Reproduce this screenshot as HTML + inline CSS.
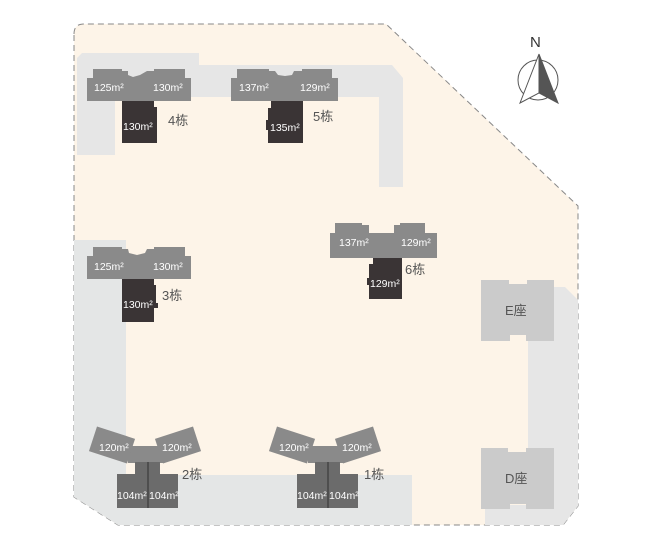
<!DOCTYPE html>
<html><head><meta charset="utf-8"><style>
html,body{margin:0;padding:0;background:#fff;}
svg{display:block;}
text{font-family:"Liberation Sans","Noto Sans CJK SC",sans-serif;}
.w{fill:#fff;font-size:10.5px;}
.l{fill:#555;font-size:13px;}
</style></head><body>
<svg width="649" height="542" viewBox="0 0 649 542" xmlns="http://www.w3.org/2000/svg">
<path d="M74,34 Q74,24 84,24 L386,24 L578,206 L578,506 L563,525 L118,525 L74,497 Z" fill="#fdf4e8" stroke="#888" stroke-width="1" stroke-dasharray="6,4"/>
<g fill="#e6e6e6">
<path d="M77,58 L82,53 L199,53 L199,65 L392,65 L403,78 L403,187 L379,187 L379,97 L115,97 L115,155 L77,155 Z"/>
<path d="M74,240 L126,240 L126,475 L412,475 L412,525 L118,525 L74,497 Z" fill="#e4e6e6"/>
<path d="M528,287 L565,287 L578,300 L578,506 L563,525 L485,525 L485,505 L528,505 Z"/>
</g>
<g fill="#cbcbcb">
<path d="M481,280 L509,280 L509,284 L527,284 L527,280 L554,280 L554,341 L526,341 L526,335 L510,335 L510,341 L481,341 Z"/>
<path d="M481,448 L508,448 L508,452 L526,452 L526,448 L554,448 L554,509 L526,509 L526,504 L510,504 L510,509 L481,509 Z"/>
</g>
<text x="505" y="315" class="l">E座</text>
<text x="505" y="483" class="l">D座</text>
<g fill="#8a8a8a">
<path d="M87,78 L93,78 L93,69 L122,69 L122,71 L128,71 L128,75 L133,77 L140,75 L147,71 L154,71 L154,69 L185,69 L185,78 L191,78 L191,101 L87,101 Z"/>
<path d="M231,78 L237,78 L237,69 L269,69 L269,71 L275,71 L278,75 L285,76 L292,75 L294,71 L302,71 L302,69 L332,69 L332,78 L338,78 L338,101 L231,101 Z"/>
<path d="M87,256 L93,256 L93,247 L122,247 L122,249 L128,249 L129,253 L137,255 L145,253 L147,249 L154,249 L154,247 L185,247 L185,256 L191,256 L191,279 L87,279 Z"/>
<path d="M330,233 L335,233 L335,223 L362,223 L362,225 L369,225 L369,233 L394,233 L394,225 L400,225 L400,223 L425,223 L425,233 L437,233 L437,258 L330,258 Z"/>
</g>
<g fill="#3a3435">
<path d="M122,101 L154,101 L154,107 L157,107 L157,143 L122,143 Z"/>
<path d="M271,101 L303,101 L303,143 L268,143 L268,130 L266,130 L266,120 L268,120 L268,108 L271,108 Z"/>
<path d="M122,279 L154,279 L154,285 L156,285 L156,303 L158,303 L158,308 L154,308 L154,322 L122,322 Z"/>
<path d="M373,258 L402,258 L402,299 L369,299 L369,285 L367,285 L367,278 L369,278 L369,264 L373,264 Z"/>
</g>
<g class="w">
<text x="94" y="91">125m²</text><text x="153" y="91">130m²</text>
<text x="123" y="130">130m²</text>
<text x="239" y="91">137m²</text><text x="300" y="91">129m²</text>
<text x="270" y="131">135m²</text>
<text x="94" y="270">125m²</text><text x="153" y="270">130m²</text>
<text x="123" y="308">130m²</text>
<text x="339" y="246">137m²</text><text x="401" y="246">129m²</text>
<text x="370" y="287">129m²</text>
</g>
<text x="168" y="125" class="l">4栋</text>
<text x="313" y="121" class="l">5栋</text>
<text x="162" y="300" class="l">3栋</text>
<text x="405" y="274" class="l">6栋</text>
<g id="b2">
<rect x="128" y="446" width="36" height="17" fill="#8a8a8a"/>
<rect x="-20" y="-13" width="40" height="26" fill="#8a8a8a" transform="translate(112,445) rotate(18)"/>
<rect x="-20" y="-13" width="40" height="26" fill="#8a8a8a" transform="translate(178,445) rotate(-18)"/>
<path d="M135,462 L160,462 L160,474 L178,474 L178,508 L117,508 L117,474 L135,474 Z" fill="#6b6b6b"/>
<line x1="148" y1="462" x2="148" y2="508" stroke="#444" stroke-width="1.5"/>
<text x="99" y="451" class="w">120m²</text><text x="162" y="451" class="w">120m²</text>
<text x="117" y="499" class="w">104m²</text><text x="149" y="499" class="w">104m²</text>
</g>
<use href="#b2" x="180"/>
<text x="182" y="479" class="l">2栋</text>
<text x="364" y="479" class="l">1栋</text>
<text x="530" y="47" font-size="15" fill="#333">N</text>
<circle cx="538" cy="80" r="20" fill="none" stroke="#555" stroke-width="1"/>
<path d="M539,54 L520,103 L539,93 Z" fill="#fff" stroke="#555" stroke-width="1"/>
<path d="M539,54 L558,103 L539,93 Z" fill="#555" stroke="#555" stroke-width="1"/>
</svg>
</body></html>
